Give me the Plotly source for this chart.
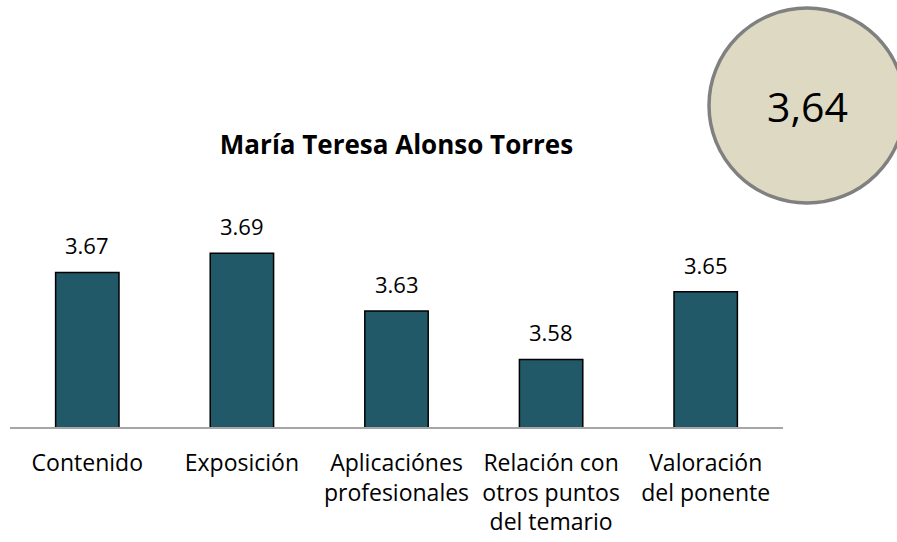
import plotly.graph_objects as go

categories = ["Contenido", "Exposición", "Aplicaciónes<br>profesionales",
              "Relación con<br>otros puntos<br>del temario", "Valoración<br>del ponente"]
scores = [3.67, 3.69, 3.63, 3.58, 3.65]
score_labels = ["3.67", "3.69", "3.63", "3.58", "3.65"]
average_label = "3,64"
speaker = "María Teresa Alonso Torres"

W, H = 897, 542
FONT = "Open Sans"

fig = go.Figure()
fig.add_trace(go.Bar(
    x=categories, y=scores,
    marker=dict(color="#215968", line=dict(color="#000000", width=1.5)),
    hoverinfo="skip",
))

# value labels above the bars
for cat, val, lab in zip(categories, scores, score_labels):
    fig.add_annotation(x=cat, y=val, text=lab, showarrow=False,
                       yanchor="bottom", yshift=10,
                       font=dict(family=FONT, size=22, color="#000000"))

# average score bubble
fig.add_shape(type="circle", xref="paper", yref="paper",
              x0=709 / W, x1=905 / W, y0=1 - 203 / H, y1=1 - 8 / H,
              fillcolor="#DDD9C3", line=dict(color="#808080", width=3.5), layer="above")
fig.add_annotation(xref="paper", yref="paper", x=807 / W, y=1 - 106 / H,
                   xanchor="center", yanchor="middle",
                   text=average_label, showarrow=False,
                   font=dict(family=FONT, size=41, color="#000000"))

fig.update_layout(
    width=W, height=H,
    margin=dict(l=0, r=0, t=0, b=0),
    paper_bgcolor="white", plot_bgcolor="white",
    bargap=0.59,
    showlegend=False,
    title=dict(text=f"<b>{speaker}</b>", x=396.5 / W, xanchor="center",
               y=1 - 145 / H, yanchor="middle",
               font=dict(family=FONT, size=26, color="#000000")),
    font=dict(family=FONT, size=23, color="#000000"),
)
fig.update_xaxes(domain=[10 / W, 783 / W], showline=True, linecolor="#A6A6A6",
                 linewidth=2, ticks="", showgrid=False, automargin=False,
                 ticklabelstandoff=14,
                 tickfont=dict(family=FONT, size=23, color="#000000"))
fig.update_yaxes(domain=[(H - 427) / H, (H - 230) / H], range=[3.51, 3.714],
                 visible=False, showgrid=False, zeroline=False)

fig.write_html("out.html", config={"displayModeBar": False},
               post_script="document.body.style.margin='0';")
